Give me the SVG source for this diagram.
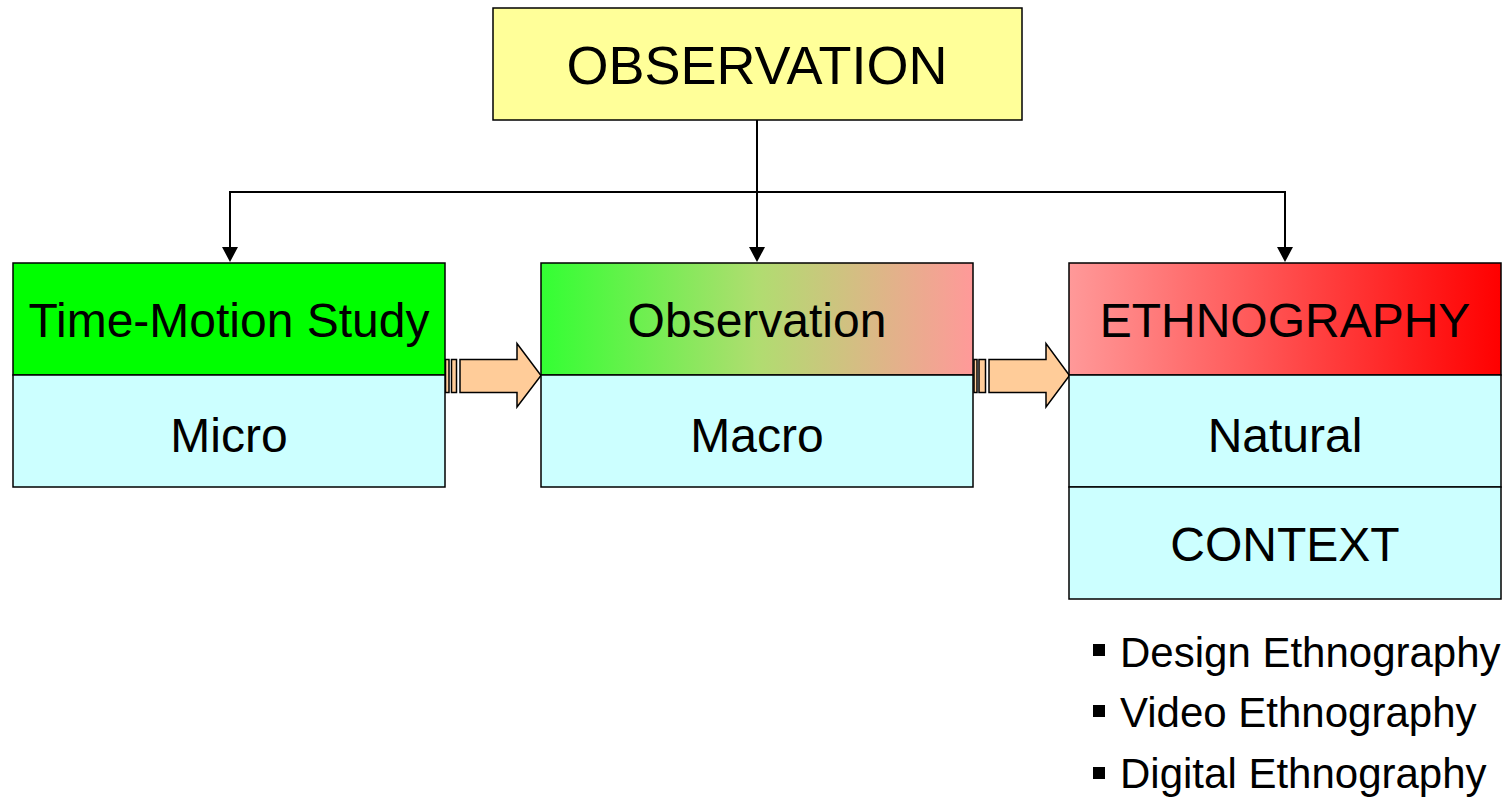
<svg xmlns="http://www.w3.org/2000/svg" width="1510" height="800" viewBox="0 0 1510 800">
  <style>
    .box { stroke: #000; stroke-width: 1.5; }
    .lbl { font-family: "Liberation Sans", Arial, sans-serif; font-size: 48px; fill: #000; text-anchor: middle; }
    .title { font-size: 54px; }
    .bullet { font-family: "Liberation Sans", Arial, sans-serif; font-size: 42px; fill: #000; }
    .sub { fill: #CCFFFF; }
    .link { fill: none; stroke: #000; stroke-width: 2; }
    .block { fill: #FFCC99; stroke: #000; stroke-width: 1.5; }
  </style>
  <defs>
    <linearGradient id="greenPink" x1="0" y1="0" x2="1" y2="0">
      <stop offset="0" stop-color="#33FF33"/>
      <stop offset="0.5" stop-color="#B0DD70"/>
      <stop offset="1" stop-color="#FF9999"/>
    </linearGradient>
    <linearGradient id="pinkRed" x1="0" y1="0" x2="1" y2="0">
      <stop offset="0" stop-color="#FF9999"/>
      <stop offset="1" stop-color="#FF0000"/>
    </linearGradient>
  </defs>

  <rect width="1510" height="800" fill="#fff"/>

  <!-- tree connectors -->
  <g id="connectors">
    <path class="link" d="M757,120 V248"/>
    <path class="link" d="M230,192 H1285"/>
    <path class="link" d="M230,191 V248"/>
    <path class="link" d="M1285,191 V248"/>
    <path d="M222,247 L238,247 L230,262 Z" fill="#000"/>
    <path d="M749,247 L765,247 L757,262 Z" fill="#000"/>
    <path d="M1277,247 L1293,247 L1285,262 Z" fill="#000"/>
    <!-- block arrows between columns -->
    <g id="arrow-1">
      <rect class="block" x="445.5" y="359.5" width="3.5" height="33" fill="#D9A877"/>
      <rect class="block" x="451.5" y="359.5" width="5" height="33"/>
      <path class="block" d="M460,359.5 H517 V343.5 L541,375.5 L517,407 V392.5 H460 Z"/>
    </g>
    <g id="arrow-2">
      <rect class="block" x="974" y="359.5" width="3" height="33"/>
      <rect class="block" x="979" y="359.5" width="6.5" height="33"/>
      <path class="block" d="M989,359.5 H1046 V343.5 L1069.5,375.5 L1046,407 V392.5 H989 Z"/>
    </g>
  </g>

  <g id="observation-root">
    <rect class="box" x="493" y="8" width="529" height="112" fill="#FFFF99"/>
    <text class="lbl title" x="757" y="84">OBSERVATION</text>
  </g>

  <g id="time-motion">
    <rect class="box" x="13" y="263" width="432" height="112" fill="#00FF00"/>
    <text class="lbl" x="229" y="337">Time-Motion Study</text>
    <rect class="box sub" x="13" y="375" width="432" height="112"/>
    <text class="lbl" x="229" y="452">Micro</text>
  </g>

  <g id="observation">
    <rect class="box" x="541" y="263" width="432" height="112" fill="url(#greenPink)"/>
    <text class="lbl" x="757" y="337">Observation</text>
    <rect class="box sub" x="541" y="375" width="432" height="112"/>
    <text class="lbl" x="757" y="452">Macro</text>
  </g>

  <g id="ethnography">
    <rect class="box" x="1069" y="263" width="432" height="112" fill="url(#pinkRed)"/>
    <text class="lbl" x="1285" y="337">ETHNOGRAPHY</text>
    <rect class="box sub" x="1069" y="375" width="432" height="112"/>
    <text class="lbl" x="1285" y="452">Natural</text>
    <rect class="box sub" x="1069" y="487" width="432" height="112"/>
    <text class="lbl" x="1285" y="561">CONTEXT</text>
  </g>

  <g id="ethnography-types">
    <rect x="1093" y="644" width="12" height="12" fill="#000"/>
    <text class="bullet" x="1120" y="667">Design Ethnography</text>
    <rect x="1093" y="705" width="12" height="12" fill="#000"/>
    <text class="bullet" x="1120" y="727">Video Ethnography</text>
    <rect x="1093" y="767" width="12" height="12" fill="#000"/>
    <text class="bullet" x="1120" y="788">Digital Ethnography</text>
  </g>
</svg>
